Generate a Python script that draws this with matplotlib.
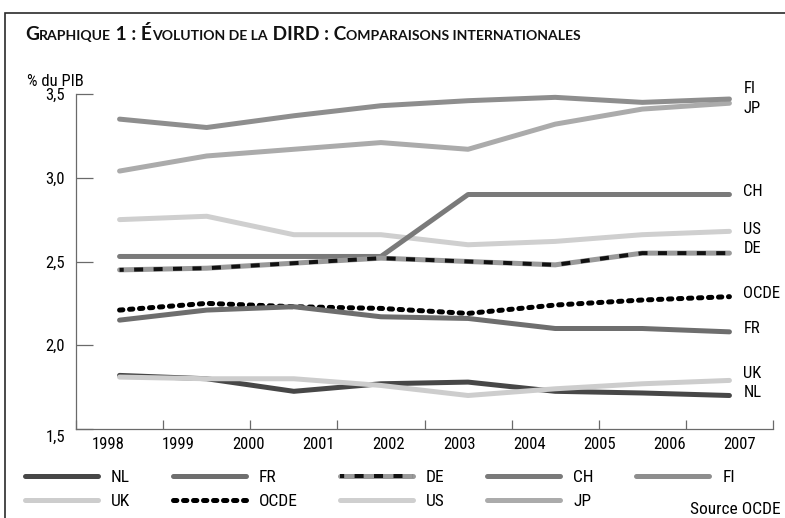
import numpy as np
import matplotlib
matplotlib.use("Agg")
import matplotlib.pyplot as plt
from matplotlib import font_manager as fm
from matplotlib.patches import Rectangle

# ---------------- data ----------------
years = ["1998", "1999", "2000", "2001", "2002", "2003", "2004", "2005", "2006", "2007"]
ytick_values = [1.5, 2.0, 2.5, 3.0, 3.5]
ytick_labels = ["1,5", "2,0", "2,5", "3,0", "3,5"]

NL = [1.82, 1.80, 1.725, 1.77, 1.78, 1.725, 1.715, 1.70]
FR = [2.15, 2.21, 2.23, 2.17, 2.16, 2.10, 2.10, 2.08]
DE = [2.45, 2.46, 2.49, 2.52, 2.50, 2.48, 2.55, 2.55]
CH = [2.53, 2.53, 2.53, 2.53, 2.90, 2.90, 2.90, 2.90]
FI = [3.35, 3.30, 3.37, 3.43, 3.46, 3.48, 3.45, 3.47]
UK = [1.81, 1.80, 1.80, 1.76, 1.70, 1.74, 1.77, 1.79]
OCDE = [2.21, 2.25, 2.23, 2.22, 2.19, 2.24, 2.27, 2.29]
US = [2.75, 2.77, 2.66, 2.66, 2.60, 2.62, 2.66, 2.68]
JP = [3.04, 3.13, 3.17, 3.21, 3.17, 3.32, 3.41, 3.445]

# ---------------- fonts ----------------
names = {f.name for f in fm.fontManager.ttflist}
FAMILY = "DejaVu Sans"
for cand in ["Roboto Condensed", "Open Sans Condensed", "Liberation Sans Narrow", "Lato"]:
    if cand in names:
        FAMILY = cand
        break
TITLE_FAMILY = "Lato" if "Lato" in names else FAMILY
plt.rcParams["font.family"] = [FAMILY, "DejaVu Sans"]
plt.rcParams["lines.scale_dashes"] = False
FS = 12

W, H = 785, 518
fig = plt.figure(figsize=(W / 100, H / 100), dpi=100)
ax = fig.add_axes([76 / W, (H - 429) / H, (773 - 76) / W, (429 - 94) / H])

n = len(NL)
x = np.arange(n) + 0.5

LW = 3.6
common = dict(lw=LW, solid_capstyle="round", solid_joinstyle="round")
l_nl, = ax.plot(x, NL, color="#474747", **common)
l_uk, = ax.plot(x, UK, color="#cdcdcd", **common)
l_us, = ax.plot(x, US, color="#cfcfcf", **common)
l_jp, = ax.plot(x, JP, color="#ababab", **common)
l_fi, = ax.plot(x, FI, color="#8e8e8e", **common)
l_ch, = ax.plot(x, CH, color="#7a7a7a", **common)
l_ocde, = ax.plot(x, OCDE, color="black", lw=LW, linestyle=(0, (2.4, 4.8)),
                  dash_capstyle="round", dash_joinstyle="round")
l_fr, = ax.plot(x, FR, color="#6e6e6e", **common)
l_de1, = ax.plot(x, DE, color="#9a9a9a", **common)
l_de2, = ax.plot(x, DE, color="#111111", lw=LW * 0.8, linestyle=(3.5, (6.5, 7.5)),
                 dash_capstyle="butt", dash_joinstyle="round")

ax.set_xlim(0, n)
ax.set_ylim(1.5, 3.5)

for s in ["top", "right"]:
    ax.spines[s].set_visible(False)
for s in ["left", "bottom"]:
    ax.spines[s].set_color("#6a6a6a")
    ax.spines[s].set_linewidth(0.9)

ax.set_yticks(ytick_values, labels=[""] + ytick_labels[1:])
ax.tick_params(axis="y", direction="in", length=12, width=0.9, color="#6a6a6a",
               pad=8, labelsize=FS)
ax.annotate(ytick_labels[0], xy=(0, ytick_values[0]), xycoords=("axes fraction", "data"),
            xytext=(-8, -6), textcoords="offset points", ha="right", va="center",
            fontsize=FS)

ax.set_xticks(np.arange(n + 1), labels=[""] * (n + 1))
ax.tick_params(axis="x", which="major", direction="in", length=6.5, width=0.9,
               color="#6a6a6a")
year_pos = 0.367 + np.arange(len(years)) * (7.62 - 0.367) / (len(years) - 1)
ax.set_xticks(year_pos, labels=years, minor=True)
ax.tick_params(axis="x", which="minor", length=0, pad=6, labelsize=FS)

# end labels
end_labels = [("FI", FI, 7.5), ("JP", JP, -3.5), ("CH", CH, 2), ("US", US, 1.5),
              ("DE", DE, 3), ("OCDE", OCDE, 2.5), ("FR", FR, 2.5), ("UK", UK, 5),
              ("NL", NL, 2.5)]
for name, vals, dy in end_labels:
    ax.annotate(name, xy=(x[-1], vals[-1]), xytext=(10, dy), textcoords="offset points",
                ha="left", va="center", fontsize=FS, annotation_clip=False)

# legend
handles = [l_nl, l_uk, l_fr, l_ocde, (l_de1, l_de2), l_us, l_ch, l_jp, l_fi]
labels = ["NL", "UK", "FR", "OCDE", "DE", "US", "CH", "JP", "FI"]
fig.legend(handles, labels, ncol=5, loc="upper left",
           bbox_to_anchor=(25 / W, 1 - 470 / H), frameon=False, fontsize=FS + 0.5,
           handlelength=4.2, handletextpad=0.75, columnspacing=2.45,
           labelspacing=0.5, borderpad=0, borderaxespad=0)

# axis unit label & source
fig.text(27 / W, 1 - 82 / H, "% du PIB", ha="left", va="center", fontsize=FS)
fig.text(781 / W, 1 - 510 / H, "Source OCDE", ha="right", va="center", fontsize=FS + 0.5)

# frame
fig.patches.append(Rectangle((5 / W, -0.1), 1.2, (H - 13) / H + 0.1,
                             transform=fig.transFigure, fill=False,
                             edgecolor="#2a2a2a", lw=1.2))

# title in small caps, fitted to the reference width
pieces = [("G", True), ("RAPHIQUE", False), (" 1 : É", True), ("VOLUTION DE LA", False),
          (" DIRD : C", True), ("OMPARAISONS INTERNATIONALES", False)]
renderer = fig.canvas.get_renderer()


def draw_title(scale):
    arts, xpos = [], 25
    for txt, big in pieces:
        t = fig.text(xpos / W, 1 - 40 / H, txt, ha="left", va="baseline",
                     fontsize=(12 if big else 8.8) * scale, fontweight="bold",
                     family=[TITLE_FAMILY, "DejaVu Sans"], color="#111111")
        xpos += t.get_window_extent(renderer).width
        arts.append(t)
    return arts, xpos


arts, end = draw_title(1.0)
scale = (583 - 25) / (end - 25)
for a in arts:
    a.remove()
draw_title(scale)

fig.savefig("out.png", dpi=100)
